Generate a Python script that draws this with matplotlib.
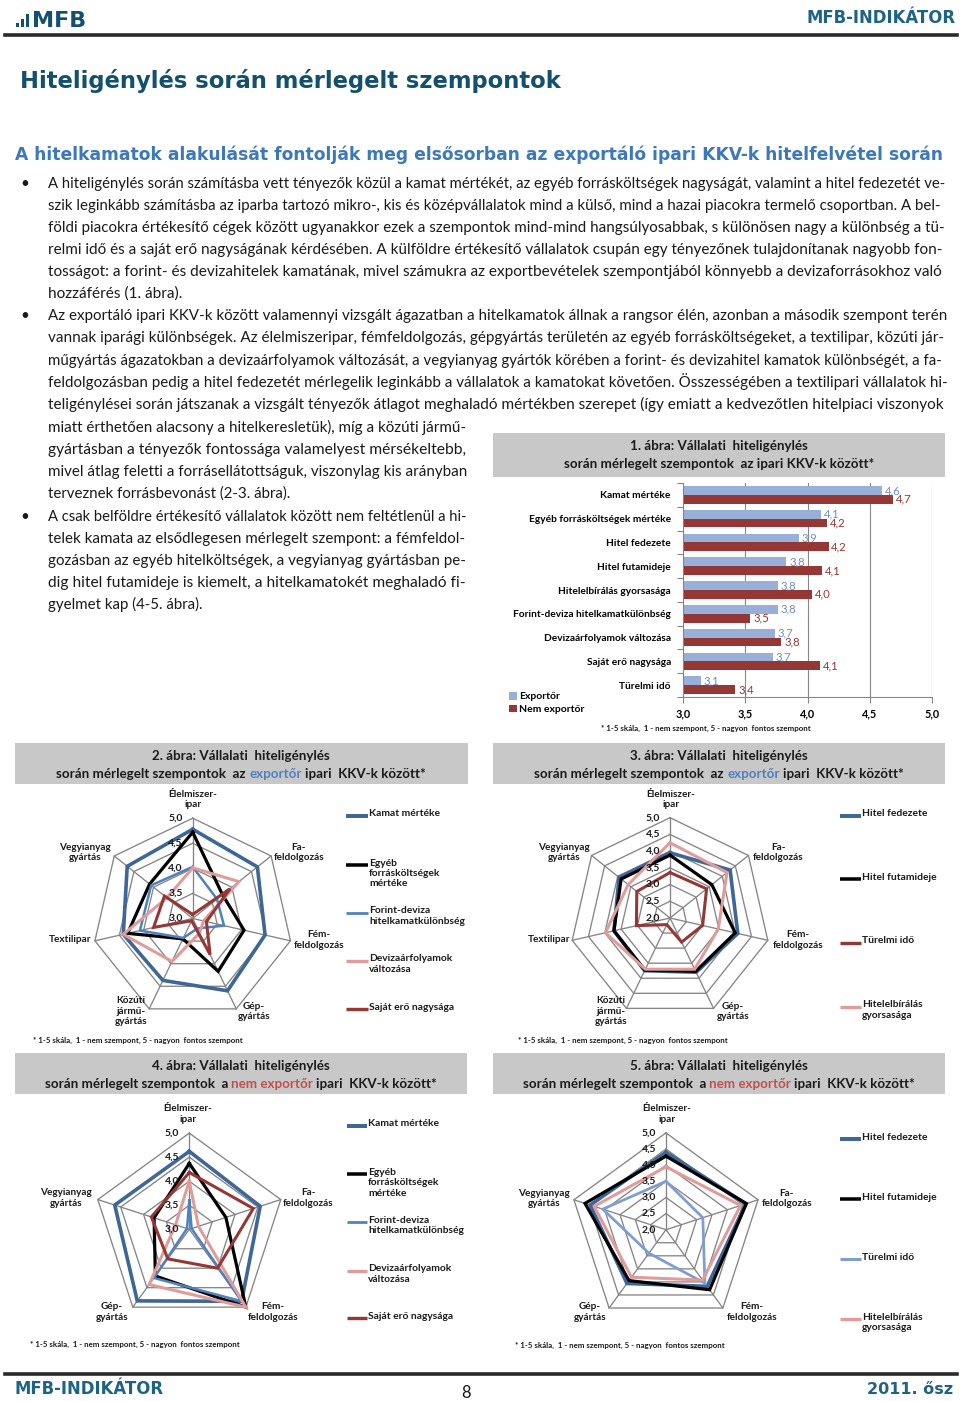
import numpy as np
import matplotlib
matplotlib.use('Agg')
import matplotlib.pyplot as plt
import matplotlib.transforms as mtransforms
from matplotlib.lines import Line2D
from matplotlib.patches import Rectangle
from matplotlib import font_manager as fm

# ---------------- data ----------------
bar_categories = ['Kamat mértéke', 'Egyéb forrásköltségek mértéke', 'Hitel fedezete',
                  'Hitel futamideje', 'Hitelelbírálás gyorsasága',
                  'Forint-deviza hitelkamatkülönbség', 'Devizaárfolyamok változása',
                  'Saját erő nagysága', 'Türelmi idő']
bar_exportor = [4.60, 4.11, 3.93, 3.83, 3.76, 3.76, 3.74, 3.72, 3.14]
bar_nem_exportor = [4.69, 4.16, 4.17, 4.12, 4.04, 3.54, 3.79, 4.10, 3.42]
bar_xticks = [3.0, 3.5, 4.0, 4.5, 5.0]
bar_series_names = ['Exportőr', 'Nem exportőr']

sectors_7 = ['Élelmiszer-\nipar', 'Fa-\nfeldolgozás', 'Fém-\nfeldolgozás', 'Gép-\ngyártás',
             'Közúti\njármű-\ngyártás', 'Textilipar', 'Vegyianyag\ngyártás']
sectors_5 = ['Élelmiszer-\nipar', 'Fa-\nfeldolgozás', 'Fém-\nfeldolgozás', 'Gép-\ngyártás',
             'Vegyianyag\ngyártás']

# Chart 2 - exporters (scale 3.0-5.0)
exp_kamat = [4.78, 4.65, 4.48, 4.60, 4.37, 4.42, 4.67]
exp_egyeb = [4.72, 3.76, 4.05, 4.17, 3.45, 4.33, 4.10]
exp_forint = [4.03, 3.62, 3.64, 3.22, 3.43, 4.08, 4.06]
exp_deviza = [4.01, 4.18, 3.22, 3.32, 3.95, 4.42, 3.66]
exp_sajat = [3.08, 3.95, 3.28, 3.80, 3.05, 3.80, 3.72]
# Chart 3 - exporters (scale 2.0-5.0)
exp_fedezet = [3.95, 4.30, 4.08, 3.80, 3.75, 3.72, 3.95]
exp_futam = [3.88, 3.60, 4.00, 3.77, 3.73, 3.72, 3.87]
exp_turelmi = [3.36, 3.40, 3.00, 2.80, 2.22, 3.03, 3.27]
exp_gyors = [4.25, 4.18, 3.48, 3.70, 3.70, 3.98, 3.60]
# Chart 4 - non-exporters (scale 3.0-5.0)
nem_kamat = [4.62, 4.55, 4.85, 4.84, 4.63]
nem_egyeb = [4.37, 3.80, 5.00, 4.20, 3.77]
nem_forint = [3.60, 3.05, 4.85, 4.25, 3.05]
nem_deviza = [4.00, 3.20, 5.00, 4.42, 3.30]
nem_sajat = [4.18, 4.40, 4.00, 3.76, 3.83]
# Chart 5 - non-exporters (scale 2.0-5.0)
nem_fedezet = [4.40, 4.60, 4.17, 4.06, 4.47]
nem_futam = [4.28, 4.62, 4.30, 3.95, 4.64]
nem_turelmi = [3.50, 3.20, 4.05, 2.90, 4.06]
nem_gyors = [3.95, 4.43, 3.93, 3.82, 4.34]

names_a = ['Kamat mértéke', 'Egyéb\nforrásköltségek\nmértéke', 'Forint-deviza\nhitelkamatkülönbség',
           'Devizaárfolyamok\nváltozása', 'Saját erő nagysága']
names_b = ['Hitel fedezete', 'Hitel futamideje', 'Türelmi idő', 'Hitelelbírálás\ngyorsasága']

# ---------------- setup ----------------
W, H = 960, 1401
fig = plt.figure(figsize=(W / 100, H / 100), dpi=100)
fig.patch.set_facecolor('white')


def has_font(name):
    try:
        fm.findfont(fm.FontProperties(family=name), fallback_to_default=False)
        return True
    except Exception:
        return False


CF = 'Lato' if has_font('Lato') else 'DejaVu Sans'
TF = 'DejaVu Sans'
plt.rcParams['font.family'] = [CF, 'DejaVu Sans']

R = fig.canvas.get_renderer()


def fx(x):
    return x / W


def fy(y):
    return 1 - y / H


def width_of(t):
    return t.get_window_extent(renderer=R).width


def fit_text(x, y, s, target, base, maxf=1.08, **kw):
    t = fig.text(fx(x), fy(y), s, fontsize=base, **kw)
    w = width_of(t)
    size = base * target / w
    size = min(size, base * maxf)
    t.set_fontsize(size)
    return t


TEAL = '#13506E'
TEAL2 = '#1F6384'
TXT = '#1a1a1a'

# ---------------- header ----------------
for h0, xx in [(4, 16), (8, 21), (13, 26)]:
    fig.add_artist(Rectangle((fx(xx), fy(27)), 3 / W, h0 / H, transform=fig.transFigure,
                             color=TEAL, lw=0))
fig.text(fx(32), fy(27), 'MFB', fontsize=16, fontweight='bold', color=TEAL, family=TF,
         va='baseline')
fit_text(806, 23, 'MFB-INDIKÁTOR', 149, 11, color=TEAL2, fontweight='bold', family=TF,
         va='baseline')
fig.add_artist(Line2D([fx(5), fx(957)], [fy(35), fy(35)], transform=fig.transFigure,
                      color='#2a2a2a', lw=2.6))

fit_text(20, 88, 'Hiteligénylés során mérlegelt szempontok', 540, 17, color=TEAL,
         fontweight='bold', family=TF, va='baseline')
fit_text(15, 160, 'A hitelkamatok alakulását fontolják meg elsősorban az exportáló ipari '
         'KKV-k hitelfelvétel során', 930, 15, color='#3D79B8', fontweight='bold', family=TF,
         va='baseline')

# ---------------- body text ----------------
para1 = ['A hiteligénylés során számításba vett tényezők közül a kamat mértékét, az egyéb '
         'forrásköltségek nagyságát, valamint a hitel fedezetét ve-',
         'szik leginkább számításba az iparba tartozó mikro-, kis és középvállalatok mind a '
         'külső, mind a hazai piacokra termelő csoportban. A bel-',
         'földi piacokra értékesítő cégek között ugyanakkor ezek a szempontok mind-mind '
         'hangsúlyosabbak, s különösen nagy a különbség a tü-',
         'relmi idő és a saját erő nagyságának kérdésében. A külföldre értékesítő vállalatok '
         'csupán egy tényezőnek tulajdonítanak nagyobb fon-',
         'tosságot: a forint- és devizahitelek kamatának, mivel számukra az exportbevételek '
         'szempontjából könnyebb a devizaforrásokhoz való',
         'hozzáférés (1. ábra).']
para2 = ['Az exportáló ipari KKV-k között valamennyi vizsgált ágazatban a hitelkamatok állnak '
         'a rangsor élén, azonban a második szempont terén',
         'vannak iparági különbségek. Az élelmiszeripar, fémfeldolgozás, gépgyártás területén az '
         'egyéb forrásköltségeket, a textilipar, közúti jár-',
         'műgyártás ágazatokban a devizaárfolyamok változását, a vegyianyag gyártók körében a '
         'forint- és devizahitel kamatok különbségét, a fa-',
         'feldolgozásban pedig a hitel fedezetét mérlegelik leginkább a vállalatok a kamatokat '
         'követően. Összességében a textilipari vállalatok hi-',
         'teligénylései során játszanak a vizsgált tényezők átlagot meghaladó mértékben szerepet '
         '(így emiatt a kedvezőtlen hitelpiaci viszonyok',
         'miatt érthetően alacsony a hitelkeresletük), míg a közúti jármű-',
         'gyártásban a tényezők fontossága valamelyest mérsékeltebb,',
         'mivel átlag feletti a forrásellátottságuk, viszonylag kis arányban',
         'terveznek forrásbevonást (2-3. ábra).']
para3 = ['A csak belföldre értékesítő vállalatok között nem feltétlenül a hi-',
         'telek kamata az elsődlegesen mérlegelt szempont: a fémfeldol-',
         'gozásban az egyéb hitelköltségek, a vegyianyag gyártásban pe-',
         'dig hitel futamideje is kiemelt, a hitelkamatokét meghaladó fi-',
         'gyelmet kap (4-5. ábra).']

body_size = 10.8
line_y = {0: [183, 205, 227, 249, 271, 293],
          1: [315, 337, 360, 382, 404, 427, 449, 471, 493],
          2: [516, 538, 560, 582, 604]}
paras = [para1, para2, para3]
for pi, para in enumerate(paras):
    ys = line_y[pi]
    fig.text(fx(20), fy(ys[0] + 5), '•', fontsize=body_size, color=TXT, va='baseline')
    wide_size = None
    for li, (line, yv) in enumerate(zip(para, ys)):
        narrow = (pi == 2) or (pi == 1 and li >= 5)
        target = (466 - 48) if narrow else (945 - 48)
        last = li == len(para) - 1
        if last:
            size = body_size if narrow else (wide_size or body_size)
            fig.text(fx(48), fy(yv + 5), line, fontsize=size, color=TXT, va='baseline')
        else:
            t = fit_text(48, yv + 5, line, target, body_size, color=TXT, va='baseline')
            if not narrow:
                wide_size = t.get_fontsize()

# ---------------- helpers for chart boxes ----------------
GRAY_BOX = '#C8C8C8'
EXP_BLUE = '#4F81BD'
NEM_RED = '#C0504D'
TITLE_SIZE = 9.6


def title_box(x0, y0, x1, y1):
    fig.add_artist(Rectangle((fx(x0), fy(y1)), (x1 - x0) / W, (y1 - y0) / H,
                             transform=fig.transFigure, color=GRAY_BOX, lw=0, zorder=0))


def rich_line(xc, y, parts, size):
    sp = fig.text(0, 0, 'a a', fontsize=size, fontweight='bold')
    sp2 = fig.text(0, 0, 'aa', fontsize=size, fontweight='bold')
    space = width_of(sp) - width_of(sp2)
    sp.remove()
    sp2.remove()
    texts = []
    for s, c in parts:
        t = fig.text(0, fy(y), s.strip(), fontsize=size, fontweight='bold', color=c,
                     va='baseline')
        texts.append((t, s))
    widths = [width_of(t) for t, _ in texts]
    gaps = [space if (s.startswith(' ') and i > 0) else 0 for i, (_, s) in enumerate(texts)]
    total = sum(widths) + sum(gaps)
    x = xc - total / 2
    for (t, s), w, g in zip(texts, widths, gaps):
        x += g
        t.set_x(fx(x))
        x += w


def footnote(x, y, ha='left'):
    fig.text(fx(x), fy(y), '* 1-5 skála,  1 - nem szempont, 5 - nagyon  fontos szempont',
             fontsize=5.7, fontweight='bold', color=TXT, ha=ha, va='center')


def fmt(v):
    return f'{v:.1f}'.replace('.', ',')


# ---------------- chart 1: bar chart ----------------
title_box(493, 433, 945, 477)
rich_line(719, 450, [('1. ábra: Vállalati  hiteligénylés', TXT)], TITLE_SIZE)
rich_line(719, 468, [('során mérlegelt szempontok  az ipari KKV-k között*', TXT)], TITLE_SIZE)

axb = fig.add_axes([fx(683.3), fy(697), (931.7 - 683.3) / W, (697 - 483) / H])
yy = np.arange(len(bar_categories))
bh = 0.37
C_EXP = '#98B0D8'
C_NEM = '#953735'
b1 = axb.barh(yy - bh / 2, bar_exportor, height=bh, color=C_EXP, label=bar_series_names[0])
b2 = axb.barh(yy + bh / 2, bar_nem_exportor, height=bh, color=C_NEM, label=bar_series_names[1])
axb.set_xlim(3.0, 5.0)
axb.set_ylim(len(bar_categories) - 0.5, -0.5)
axb.bar_label(b1, labels=[fmt(v) for v in bar_exportor], padding=2, color='#6F8FC0',
              fontsize=8.2)
axb.bar_label(b2, labels=[fmt(v) for v in bar_nem_exportor], padding=2, color=C_NEM,
              fontsize=8.2)
axb.set_xticks(bar_xticks)
axb.set_xticklabels([fmt(v) for v in bar_xticks], fontweight='bold', fontsize=7.8)
axb.tick_params(axis='x', length=4, width=0.8, color='#868686', pad=4)
axb.set_yticks(yy)
axb.set_yticklabels(bar_categories, fontweight='bold', fontsize=7.3)
axb.tick_params(axis='y', which='major', length=0, pad=9)
axb.set_yticks(np.arange(-0.5, len(bar_categories), 1.0), minor=True)
axb.tick_params(axis='y', which='minor', length=4, width=0.8, color='#868686')
axb.xaxis.grid(True, color='#868686', lw=0.8)
axb.set_axisbelow(True)
for s in ['top', 'right']:
    axb.spines[s].set_visible(False)
for s in ['left', 'bottom']:
    axb.spines[s].set_color('#868686')
    axb.spines[s].set_linewidth(0.8)
axb.patch.set_visible(False)
axb.legend(handles=[b1, b2], loc='upper left', bbox_to_anchor=(fx(509), fy(692)),
           bbox_transform=fig.transFigure, frameon=False, handlelength=0.75,
           handleheight=0.75, handletextpad=0.25, labelspacing=0.3, borderpad=0,
           borderaxespad=0, prop={'weight': 'bold', 'size': 7.5})
footnote(706, 728, ha='center')


# ---------------- radar charts ----------------
def radar(cx, cy, Rpx, rmin, cats, series, ring_vals, label_pos):
    ax = fig.add_axes([fx(cx - Rpx), fy(cy + Rpx), 2 * Rpx / W, 2 * Rpx / H],
                      projection='polar')
    ax.set_theta_zero_location('N')
    ax.set_theta_direction(-1)
    ax.set_ylim(rmin, 5.0)
    ax.set_xticks([])
    ax.set_yticks([])
    ax.grid(False)
    ax.spines['polar'].set_visible(False)
    ax.patch.set_visible(False)
    n = len(cats)
    ang = np.arange(n) * 2 * np.pi / n
    angc = np.append(ang, ang[0])
    for rv in ring_vals:
        ax.plot(angc, [rv] * (n + 1), color='#858585', lw=0.95, zorder=1, clip_on=False)
    for a in ang:
        ax.plot([a, a], [rmin, 5.0], color='#858585', lw=0.95, zorder=1, clip_on=False)
    for vals, c, lw in series:
        ax.plot(angc, np.append(vals, vals[0]), color=c, lw=lw, zorder=3, clip_on=False,
                solid_joinstyle='miter')
    trans = mtransforms.offset_copy(ax.transData, fig=fig, x=-10, y=0, units='dots')
    for rv in [rmin] + list(ring_vals):
        ax.text(0, rv, fmt(rv), transform=trans, ha='right', va='center', fontsize=7.5,
                fontweight='bold', color=TXT, zorder=5)
    for cat, (lx, ly) in zip(cats, label_pos):
        fig.text(fx(lx), fy(ly), cat, ha='center', va='center', multialignment='center',
                 fontsize=7.2, fontweight='bold', color=TXT, linespacing=1.15)
    return ax


def legend_block(x0, x1, entries):
    for name, c, lw, y in entries:
        fig.add_artist(Line2D([fx(x0), fx(x1)], [fy(y), fy(y)], transform=fig.transFigure,
                              color=c, lw=lw * 1.1, solid_capstyle='butt'))
        fig.text(fx(x1 + 1), fy(y - 6.5), name, ha='left', va='top', fontsize=7.4,
                 fontweight='bold', color=TXT, linespacing=1.2)


C_KAMAT = '#3E6696'
C_BLACK = '#000000'
C_FORINT = '#4F81BD'
C_PINK = '#E09C9B'
C_MAROON = '#953735'
C_LBLUE = '#7F9ED0'

# chart 2
title_box(15, 743, 468, 784)
rich_line(241, 760, [('2. ábra: Vállalati  hiteligénylés', TXT)], TITLE_SIZE)
rich_line(241, 778, [('során mérlegelt szempontok  az', TXT), (' exportőr', EXP_BLUE),
                     (' ipari  KKV-k között*', TXT)], TITLE_SIZE)
radar(192.7, 918.5, 100.3, 3.0, sectors_7,
      [(exp_kamat, C_KAMAT, 2.6), (exp_egyeb, C_BLACK, 2.3), (exp_forint, C_FORINT, 1.8),
       (exp_deviza, C_PINK, 2.2), (exp_sajat, C_MAROON, 2.2)],
      [3.5, 4.0, 4.5, 5.0],
      [(193, 799.5), (299, 852.5), (319, 940), (254, 1011.5), (131, 1011), (70, 940),
       (85, 852.5)])
legend_block(346, 368, [(names_a[0], C_KAMAT, 2.6, 816), (names_a[1], C_BLACK, 2.3, 865),
                        (names_a[2], C_FORINT, 1.8, 912.7), (names_a[3], C_PINK, 2.2, 960.7),
                        (names_a[4], C_MAROON, 2.2, 1009)])
footnote(33, 1040)

# chart 3
title_box(493, 743, 945, 784)
rich_line(719, 760, [('3. ábra: Vállalati  hiteligénylés', TXT)], TITLE_SIZE)
rich_line(719, 778, [('során mérlegelt szempontok  az', TXT), (' exportőr', EXP_BLUE),
                     (' ipari  KKV-k között*', TXT)], TITLE_SIZE)
radar(670, 918, 100.3, 2.0, sectors_7,
      [(exp_fedezet, C_KAMAT, 2.6), (exp_futam, C_BLACK, 2.3), (exp_turelmi, C_MAROON, 2.2),
       (exp_gyors, C_PINK, 2.2)],
      [2.5, 3.0, 3.5, 4.0, 4.5, 5.0],
      [(671, 799.5), (778, 852.5), (798, 940), (733, 1011.5), (611, 1011), (549, 940),
       (564, 852.5)])
legend_block(840, 861, [(names_b[0], C_KAMAT, 2.6, 816), (names_b[1], C_BLACK, 2.3, 879),
                        (names_b[2], C_MAROON, 2.2, 942.7), (names_b[3], C_PINK, 2.2, 1006.7)])
footnote(518, 1040)

# chart 4
title_box(15, 1053, 467, 1094)
rich_line(241, 1070, [('4. ábra: Vállalati  hiteligénylés', TXT)], TITLE_SIZE)
rich_line(241, 1088, [('során mérlegelt szempontok  a', TXT), (' nem exportőr', NEM_RED),
                      (' ipari  KKV-k között*', TXT)], TITLE_SIZE)
radar(189.3, 1229.3, 96.2, 3.0, sectors_5,
      [(nem_kamat, C_KAMAT, 2.6), (nem_egyeb, C_BLACK, 2.3), (nem_forint, C_FORINT, 1.8),
       (nem_deviza, C_PINK, 2.2), (nem_sajat, C_MAROON, 2.2)],
      [3.5, 4.0, 4.5, 5.0],
      [(188, 1114), (308, 1198), (273, 1312), (112, 1312), (66, 1198)])
legend_block(347, 367, [(names_a[0], C_KAMAT, 2.6, 1126), (names_a[1], C_BLACK, 2.3, 1174.3),
                        (names_a[2], C_FORINT, 1.8, 1222.3), (names_a[3], C_PINK, 2.2, 1270.7),
                        (names_a[4], C_MAROON, 2.2, 1318.3)])
footnote(30, 1344)

# chart 5
title_box(493, 1053, 945, 1094)
rich_line(719, 1070, [('5. ábra: Vállalati  hiteligénylés', TXT)], TITLE_SIZE)
rich_line(719, 1088, [('során mérlegelt szempontok  a', TXT), (' nem exportőr', NEM_RED),
                      (' ipari  KKV-k között*', TXT)], TITLE_SIZE)
radar(666, 1229.7, 96.8, 2.0, sectors_5,
      [(nem_fedezet, C_KAMAT, 2.6), (nem_futam, C_BLACK, 2.3), (nem_turelmi, C_LBLUE, 2.0),
       (nem_gyors, C_PINK, 2.2)],
      [2.5, 3.0, 3.5, 4.0, 4.5, 5.0],
      [(667, 1114), (787, 1198.5), (752, 1312), (590, 1312), (544, 1198.5)])
legend_block(840, 861, [(names_b[0], C_KAMAT, 2.6, 1139.3), (names_b[1], C_BLACK, 2.3, 1199.3),
                        (names_b[2], C_LBLUE, 2.0, 1259.3), (names_b[3], C_PINK, 2.2, 1319.3)])
footnote(515, 1345)

# ---------------- footer ----------------
fig.add_artist(Line2D([fx(5), fx(957)], [fy(1374), fy(1374)], transform=fig.transFigure,
                      color='#2a2a2a', lw=2.6))
fit_text(15, 1394, 'MFB-INDIKÁTOR', 150, 11, color=TEAL2, fontweight='bold', family=TF,
         va='baseline')
fig.text(fx(466), fy(1398), '8', fontsize=12, color=TXT, ha='center', va='baseline')
fig.text(fx(953), fy(1394), '2011. ősz', fontsize=11.5, color=TEAL2, fontweight='bold',
         family=TF, ha='right', va='baseline')

fig.savefig('out.png', dpi=100, facecolor='white')
